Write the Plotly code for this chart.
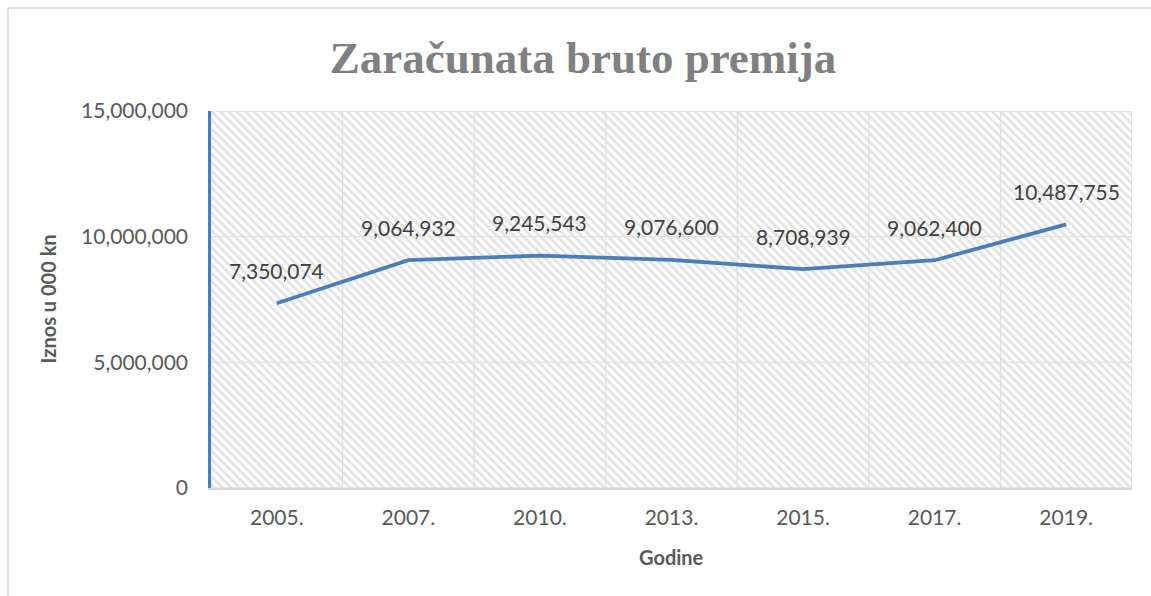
import plotly.graph_objects as go

years = ["2005.", "2007.", "2010.", "2013.", "2015.", "2017.", "2019."]
values = [7350074, 9064932, 9245543, 9076600, 8708939, 9062400, 10487755]
y_ticks = [0, 5000000, 10000000, 15000000]
y_tick_labels = ["0", "5,000,000", "10,000,000", "15,000,000"]

W, H = 1151, 596
L, R, T, B = 211, 19, 111, 108
pw, ph = W - L - R, H - T - B

def px_x(p):
    return (p - L) / pw

def px_y(p):
    return (H - B - p) / ph

n = len(years)
xs = list(range(n))
x0, x1 = -0.5, n - 0.5
ymax = y_ticks[-1]

fig = go.Figure()

# hatched plot-area background
fig.add_trace(go.Scatter(
    x=[x0, x1, x1, x0, x0], y=[0, 0, ymax, ymax, 0],
    mode="lines", line=dict(width=0), fill="toself",
    fillcolor="white",
    fillpattern=dict(shape="\\", fgcolor="#e3e3e3", bgcolor="white",
                     size=6, solidity=0.45, fillmode="replace"),
    hoverinfo="skip", showlegend=False,
))

# gridlines (drawn above the hatch, below the data line)
gx, gy = [], []
for t in y_ticks:
    gx += [x0, x1, None]
    gy += [t, t, None]
for i in range(n + 1):
    b = x0 + i
    gx += [b, b, None]
    gy += [0, ymax, None]
fig.add_trace(go.Scatter(
    x=gx, y=gy, mode="lines", line=dict(color="#e0e0e0", width=1.3),
    hoverinfo="skip", showlegend=False,
))

fig.add_trace(go.Scatter(
    x=xs, y=values, mode="lines",
    line=dict(color="#4A7EBB", width=3.8),
    showlegend=False,
))

for x, v in zip(xs, values):
    fig.add_annotation(
        x=x, y=v, text=f"{v:,}", showarrow=False, yshift=33,
        font=dict(family="Lato", size=21, color="#404040"),
    )

fig.add_annotation(
    xref="paper", yref="paper", x=px_x(47), y=0.5, text="<b>Iznos u 000 kn</b>",
    textangle=-90, showarrow=False, xanchor="center", yanchor="middle",
    font=dict(family="Lato", size=20, color="#595959"),
)
fig.add_annotation(
    xref="paper", yref="paper", x=0.5, y=px_y(557), text="<b>Godine</b>",
    showarrow=False, xanchor="center", yanchor="middle",
    font=dict(family="Lato", size=20, color="#595959"),
)

# outer chart frame
fig.add_shape(type="line", xref="paper", yref="paper",
              x0=px_x(8), x1=px_x(8), y0=px_y(8), y1=px_y(H + 5),
              line=dict(color="#d9d9d9", width=1.5))
fig.add_shape(type="line", xref="paper", yref="paper",
              x0=px_x(8), x1=px_x(W + 5), y0=px_y(8), y1=px_y(8),
              line=dict(color="#d9d9d9", width=1.5))

fig.update_layout(
    width=W, height=H,
    margin=dict(l=L, r=R, t=T, b=B, pad=0),
    paper_bgcolor="white", plot_bgcolor="white",
    title=dict(text="<b>Zaračunata bruto premija</b>", x=583 / W, xref="container",
               y=1 - 57 / H, yref="container", xanchor="center", yanchor="middle",
               font=dict(family="Liberation Serif", size=45, color="#808080")),
    xaxis=dict(range=[x0, x1], tickvals=xs, ticktext=years, showgrid=False,
               zeroline=False, showline=True, linecolor="#d9d9d9", linewidth=2,
               ticks="", ticklabelstandoff=10,
               tickfont=dict(family="Lato", size=21, color="#595959")),
    yaxis=dict(range=[0, ymax], tickvals=y_ticks, ticktext=y_tick_labels,
               showgrid=False, zeroline=False, showline=True,
               linecolor="#4A7EBB", linewidth=2.5, ticks="",
               ticklabelstandoff=16,
               tickfont=dict(family="Lato", size=21, color="#595959")),
)

fig.write_html("out.html", config={"displayModeBar": False},
               post_script="document.body.style.margin='0';")
